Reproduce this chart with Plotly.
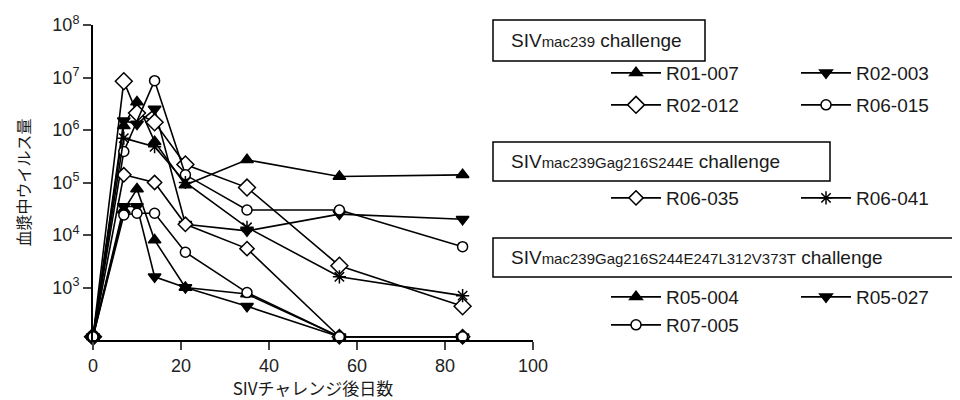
import plotly.graph_objects as go

# ---------------- data ----------------
days = [0, 7, 10, 14, 21, 35, 56, 84]

r01_007 = [115, 1.2e6, 3.4e6, 6.0e5, 9.0e4, 2.7e5, 1.3e5, 1.4e5]
r02_003 = [115, 1.5e6, 1.3e6, 2.5e6, 1.6e4, 1.2e4, 2.5e4, 2.0e4]
r02_012 = [115, 8.5e6, 2.1e6, 1.4e6, 2.2e5, 8.0e4, 2.6e3, 4.4e2]
r06_015 = [115, 3.9e5, None, 8.7e6, 1.4e5, 3.0e4, 3.0e4, 6.0e3]
r06_035 = [115, 1.4e5, None, 1.0e5, 1.6e4, 5.5e3, 115, 115]
r06_041 = [115, 7.0e5, None, 4.8e5, 1.0e5, 1.4e4, 1.6e3, 7.0e2]
r05_004 = [115, 3.0e4, 7.5e4, 8.0e3, 1.0e3, 7.5e2, 115, 115]
r05_027 = [115, 3.5e4, 3.5e4, 1.6e3, 1.0e3, 4.4e2, 115, 115]
r07_005 = [115, 2.4e4, 2.6e4, 2.6e4, 4.7e3, 8.0e2, 115, 115]

x_ticks = [0, 20, 40, 60, 80, 100]
y_tickvals = [1e3, 1e4, 1e5, 1e6, 1e7, 1e8]
y_ticktext = ["10<sup>3</sup>", "10<sup>4</sup>", "10<sup>5</sup>",
              "10<sup>6</sup>", "10<sup>7</sup>", "10<sup>8</sup>"]

group_titles = [
    "SIV<span style='font-size:15px'>mac239</span> challenge",
    "SIV<span style='font-size:15px'>mac239Gag216S244E</span> challenge",
    "SIV<span style='font-size:15px'>mac239Gag216S244E247L312V373T</span> challenge",
]

# name, values, symbol, fill, size
series = [
    ("R01-007", r01_007, "triangle-up", "black", 11),
    ("R02-003", r02_003, "triangle-down", "black", 11),
    ("R02-012", r02_012, "diamond", "white", 13),
    ("R06-015", r06_015, "circle", "white", 10),
    ("R06-035", r06_035, "diamond", "white", 11),
    ("R06-041", r06_041, "asterisk-open", "black", 11),
    ("R05-004", r05_004, "triangle-up", "black", 11),
    ("R05-027", r05_027, "triangle-down", "black", 11),
    ("R07-005", r07_005, "circle", "white", 10),
]

# ---------------- layout helpers ----------------
# The page body has an 8px margin, so the figure is drawn 8px right/down.
OFF = 8
W, H = 960 - OFF, 400 - OFF
# plot area in screen pixels
L, R, T, B = 93, 533, 25, 340
def px(xp):
    return (xp - L) / (R - L)
def py(yp):
    return (B - yp) / (B - T)

# legend box left and centre y, in screen pixels
legend_pos = [
    (606, 73), (796, 73),
    (606, 105), (796, 105),
    (606, 198), (796, 198),
    (606, 297), (796, 297),
    (606, 325),
]

fig = go.Figure()
layout_legends = {}
for i, (name, vals, sym, fill, size) in enumerate(series):
    lname = "legend" if i == 0 else f"legend{i+1}"
    fig.add_trace(go.Scatter(
        x=days, y=vals, name=name, mode="lines+markers",
        connectgaps=True,
        line=dict(color="black", width=1.6),
        marker=dict(symbol=sym, color=fill, size=size,
                    line=dict(color="black", width=1.5)),
        cliponaxis=False,
        legend=lname,
    ))
    lx, ly = legend_pos[i]
    layout_legends[lname] = dict(
        x=px(lx), y=py(ly), xanchor="left", yanchor="middle",
        bgcolor="rgba(0,0,0,0)", borderwidth=0, itemwidth=50,
        font=dict(family="Liberation Sans, Arial, sans-serif", size=19, color="#1a1a1a"),
    )

boxes = [(493, 20, 705, 61), (493, 142, 830, 181), (493, 238, 958, 277)]
shapes = []
annotations = []
for (x0, y0, x1, y1), title in zip(boxes, group_titles):
    shapes.append(dict(type="rect", xref="paper", yref="paper",
                       x0=px(x0), x1=px(x1), y0=py(y0), y1=py(y1),
                       line=dict(color="black", width=1.5)))
    annotations.append(dict(xref="paper", yref="paper", x=px(509), y=py((y0 + y1) / 2),
                            xanchor="left", yanchor="middle", showarrow=False,
                            text=title,
                            font=dict(family="Liberation Sans, Arial, sans-serif",
                                      size=19, color="#1a1a1a")))

fig.update_layout(
    width=W, height=H,
    margin=dict(l=L - OFF, r=960 - R, t=T - OFF, b=400 - B, autoexpand=False),
    plot_bgcolor="white", paper_bgcolor="white",
    showlegend=True,
    shapes=shapes, annotations=annotations,
    font=dict(family="Liberation Sans, Arial, sans-serif", color="#1a1a1a"),
    **layout_legends,
)

fig.update_xaxes(
    range=[0, 100], tickvals=x_ticks, ticks="outside", ticklen=8, tickwidth=1.5,
    showline=True, linecolor="black", linewidth=2, showgrid=False, zeroline=False,
    tickfont=dict(size=18, color="#222"), automargin=False,
    title=dict(text="SIVチャレンジ後日数", standoff=8,
               font=dict(family="Noto Sans CJK JP", size=17, color="#1a1a1a")),
)
fig.update_yaxes(
    type="log", range=[2, 8], tickvals=y_tickvals, ticktext=y_ticktext,
    ticks="outside", ticklen=8, tickwidth=1.5,
    showline=True, linecolor="black", linewidth=2, showgrid=False, zeroline=False,
    tickfont=dict(size=18, color="#222"), automargin=False,
    title=dict(text="血漿中ウイルス量", standoff=18,
               font=dict(family="Noto Sans CJK JP", size=16, color="#1a1a1a")),
)

fig.write_html("out.html")
